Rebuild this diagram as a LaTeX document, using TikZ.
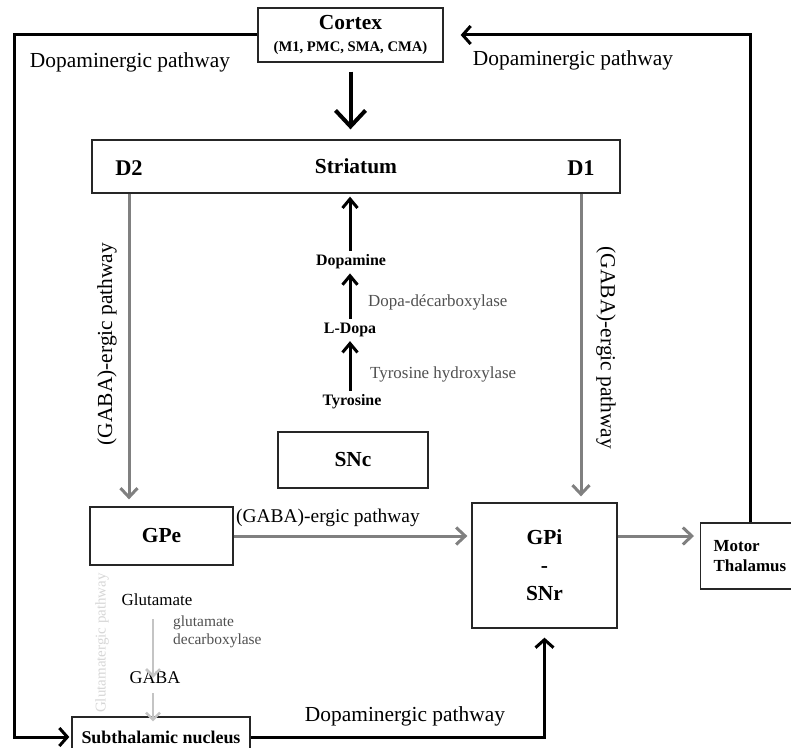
\documentclass[tikz,border=0pt]{standalone}
\usepackage{fontspec}
\setmainfont{Liberation Serif}
\usepackage{tikz}
\usetikzlibrary{arrows.meta, positioning, calc}
\definecolor{path-gray}{HTML}{808080}
\definecolor{glut-gray}{HTML}{C4C4C4}
\definecolor{note-gray}{HTML}{505050}

\tikzset{
    region/.style={draw=black!85, line width=1.3bp, inner sep=0pt, font=\bfseries\fontsize{21.5}{25}\selectfont},
    chem/.style={inner sep=4bp, font=\bfseries\fontsize{16}{19}\selectfont},
    enzyme/.style={anchor=west, inner sep=0pt, text=note-gray, font=\fontsize{17}{20}\selectfont},
    pathlabel/.style={inner sep=0pt, font=\fontsize{21.5}{25}\selectfont},
    dopa/.style={line width=3bp, -{Straight Barb[length=8bp,width=18bp]}},
    gaba/.style={line width=3bp, path-gray, -{Straight Barb[length=9bp,width=17bp]}},
    glut/.style={line width=2.5bp, glut-gray, -{Straight Barb[length=7bp,width=14bp]}},
    synth/.style={line width=3bp, -{Straight Barb[length=9bp,width=15bp]}}
}

\begin{document}
\begin{tikzpicture}[x=1bp, y=-1bp]
    \useasboundingbox (0,0) rectangle (791,748);

    % Boxes
    \node[region, minimum width=185bp, minimum height=54bp, align=center] (cortex) at (350.5,35)
        {Cortex\\[-2bp]{\fontsize{14.7}{17}\selectfont (M1, PMC, SMA, CMA)}};
    \node[region, minimum width=528bp, minimum height=53bp] (striatum) at (356,166.5) {Striatum};
    \node[region, minimum width=150bp, minimum height=56bp] (snc) at (353,460) {SNc};
    \node[region, minimum width=143bp, minimum height=58bp] (gpe) at (161.5,536) {GPe};
    \node[region, minimum width=145bp, minimum height=125bp, align=center] (gpi) at (544.5,565.5)
        {GPi\\[3bp]-\\[3bp]SNr};
    \node[region, anchor=west, text width=74bp, inner xsep=13bp, minimum height=66bp, align=left,
        font=\bfseries\fontsize{17}{20}\selectfont] (mthal) at (700,556) {Motor\\Thalamus};
    \node[region, minimum width=178bp, minimum height=40bp, font=\bfseries\fontsize{18}{21}\selectfont] (stn) at (161,737)
        {Subthalamic nucleus};

    % Receptors
    \node[font=\bfseries\fontsize{22.5}{26}\selectfont] (d2) at (129,168) {D2};
    \node[font=\bfseries\fontsize{22.5}{26}\selectfont] (d1) at (581,168) {D1};

    % Dopamine synthesis
    \node[chem] (tyr) at (352,402) {Tyrosine};
    \node[chem] (ldopa) at (350,330) {L-Dopa};
    \node[chem] (da) at (351,262) {Dopamine};
    \draw[synth] (tyr.north -| ldopa) -- (ldopa.south);
    \draw[synth] (ldopa.north) -- (ldopa.north |- da.south);
    \draw[synth, shorten >=3bp] (da.north -| ldopa) -- (ldopa |- striatum.south);
    \node[enzyme] at (368,302) {Dopa-décarboxylase};
    \node[enzyme] at (370,374) {Tyrosine hydroxylase};

    % GABA synthesis in GPe
    \node[inner sep=0pt, font=\fontsize{17}{20}\selectfont] (glu) at (157,600) {Glutamate};
    \node[inner sep=0pt, font=\fontsize{18}{21}\selectfont] (gaba) at (155,678) {GABA};
    \draw[glut] ([yshift=-13bp]glu.south -| 153,0) -- ([yshift=-6bp]gaba.north -| 153,0);
    \draw[glut] ([yshift=-9bp]gaba.south -| 153,0) -- ([yshift=-5bp]stn.north -| 153,0);
    \node[anchor=west, align=left, inner sep=0pt, text=note-gray, font=\fontsize{15.5}{18}\selectfont] at (173,632)
        {glutamate\\decarboxylase};
    \node[inner sep=0pt, rotate=90, text=glut-gray!70, font=\fontsize{15}{18}\selectfont] at (102,643)
        {Glutamatergic pathway};

    % Cortex to striatum
    \draw[line width=4bp, shorten <=9bp, shorten >=10bp, -{Straight Barb[length=16bp,width=30bp]}]
        (cortex.south) -- (cortex.south |- striatum.north);

    % GABA-ergic pathways
    \draw[gaba, shorten >=7bp] (d2 |- striatum.south) -- (d2 |- gpe.north);
    \draw[gaba, shorten >=6bp] (d1 |- striatum.south) -- (d1 |- gpi.north);
    \draw[gaba, shorten >=4bp] (gpe.east) -- (gpe.east -| gpi.west);
    \draw[gaba, shorten >=6bp] (gpe.east -| gpi.east) -- (gpe.east -| mthal.west);
    \node[pathlabel, rotate=90] at (107,344) {(GABA)-ergic pathway};
    \node[pathlabel, rotate=-90] at (606,348) {(GABA)-ergic pathway};
    \node[pathlabel, font=\fontsize{19.5}{23}\selectfont] at (328,518) {(GABA)-ergic pathway};

    % Dopaminergic pathways
    \coordinate (lcorner) at (14,737);
    \draw[dopa, shorten >=2bp] (cortex.west) -| (lcorner) -- (stn.west);
    \draw[dopa, shorten >=17bp] (mthal.north) |- (cortex.east);
    \draw[dopa, shorten >=9bp] (stn.east) -| (gpi.south);
    \node[pathlabel] at (130,62) {Dopaminergic pathway};
    \node[pathlabel] at (573,60) {Dopaminergic pathway};
    \node[pathlabel] at (405,716) {Dopaminergic pathway};
\end{tikzpicture}
\end{document}
